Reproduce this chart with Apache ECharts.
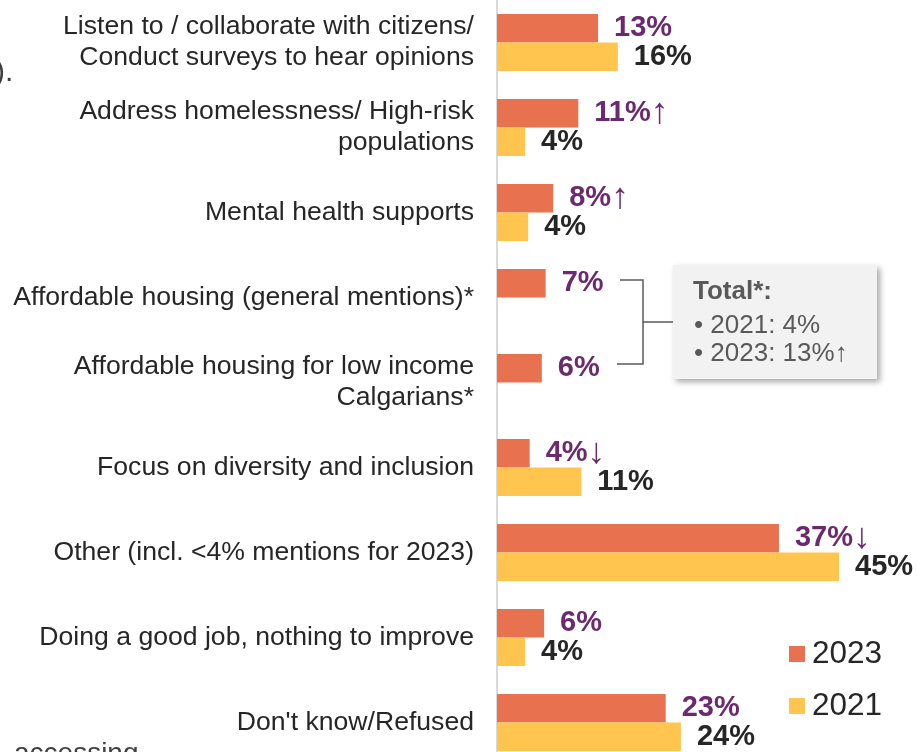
<!DOCTYPE html>
<html><head><meta charset="utf-8">
<script src="https://cdn.jsdelivr.net/npm/echarts@6/dist/echarts.min.js"></script>
<style>html,body{margin:0;padding:0;background:#fff;overflow:hidden}#c{width:917px;height:752px}</style>
</head><body><div id="c"></div>
<script>
const categories = [
  'Listen to / collaborate with citizens/\nConduct surveys to hear opinions',
  'Address homelessness/ High-risk\npopulations',
  'Mental health supports',
  'Affordable housing (general mentions)*',
  'Affordable housing for low income\nCalgarians*',
  'Focus on diversity and inclusion',
  'Other (incl. <4% mentions for 2023)',
  'Doing a good job, nothing to improve',
  "Don't know/Refused"
];
const values2023 = [13.3, 10.7, 7.4, 6.4, 5.9, 4.3, 37.1, 6.2, 22.2];
const values2021 = [15.9, 3.7, 4.1, null, null, 11.1, 45.0, 3.7, 24.2];
const labels2023 = ['13%', '11%', '8%', '7%', '6%', '4%', '37%', '6%', '23%'];
const arrows2023 = ['', '↑', '↑', '', '', '↓', '↓', '', ''];
const labels2021 = ['16%', '4%', '4%', '', '', '11%', '45%', '4%', '24%'];
const legendNames = ['2023', '2021'];
const totalBox = ['Total*:', '• 2021: 4%', '• 2023: 13%↑'];

const FONT = '"Liberation Sans", Arial, sans-serif';
const C2023 = '#E8714F', C2021 = '#FFC54F', PURPLE = '#6B2A6E', DARK = '#262626', GREY = '#595959';

const chart = echarts.init(document.getElementById('c'), null, {renderer: 'canvas'});
chart.setOption({
  backgroundColor: '#fff',
  animation: false,
  textStyle: {fontFamily: FONT},
  grid: {left: 497, top: 0, width: 418, height: 765, containLabel: false, outerBoundsMode: 'none'},
  xAxis: {type: 'value', min: 0, max: 55, show: false},
  yAxis: {
    type: 'category', data: categories, inverse: true,
    axisLine: {show: true, lineStyle: {color: '#d9d9d9', width: 2}},
    axisTick: {show: false},
    axisLabel: {fontSize: 26.6, color: DARK, margin: 23, lineHeight: 31, align: 'right', fontFamily: FONT}
  },
  legend: {
    data: legendNames, orient: 'vertical', left: 789, top: 638, padding: 0,
    itemWidth: 16, itemHeight: 16, itemGap: 20, icon: 'rect',
    textStyle: {fontSize: 31.5, color: DARK, lineHeight: 32, fontFamily: FONT, padding: [0, 0, 0, 2]}
  },
  series: [
    {
      name: '2023', type: 'bar', data: values2023, barCategoryGap: '33%', barGap: '0%',
      itemStyle: {color: C2023},
      label: {
        show: true, position: 'right', distance: 16,
        formatter: p => '{v|' + labels2023[p.dataIndex] + '}' + (arrows2023[p.dataIndex] ? '{a|' + arrows2023[p.dataIndex] + '}' : ''),
        rich: {
          v: {fontSize: 29, fontWeight: 'bold', color: PURPLE, fontFamily: FONT},
          a: {fontSize: 36, fontWeight: 'normal', color: PURPLE, fontFamily: FONT}
        }
      }
    },
    {
      name: '2021', type: 'bar', data: values2021, barCategoryGap: '33%', barGap: '0%',
      itemStyle: {color: C2021},
      label: {
        show: true, position: 'right', distance: 16,
        formatter: p => labels2021[p.dataIndex],
        fontSize: 29, fontWeight: 'bold', color: DARK, fontFamily: FONT
      }
    }
  ],
  graphic: [
    {type: 'polyline', shape: {points: [[620, 280], [643, 280], [643, 364], [617, 364]]}, style: {stroke: GREY, lineWidth: 1.5, fill: null}},
    {type: 'line', shape: {x1: 643, y1: 322, x2: 673, y2: 322}, style: {stroke: GREY, lineWidth: 1.5}},
    {type: 'rect', shape: {x: 673, y: 265, width: 204, height: 114}, style: {fill: '#f2f2f2', shadowBlur: 6, shadowOffsetX: 3, shadowOffsetY: 3, shadowColor: 'rgba(0,0,0,0.35)'}},
    {type: 'text', left: 693, top: 279, style: {text: totalBox[0], font: 'bold 26px ' + FONT, fill: GREY}},
    {type: 'text', left: 694, top: 313, style: {text: totalBox[1], font: '26px ' + FONT, fill: GREY}},
    {type: 'text', left: 694, top: 341, style: {text: totalBox[2], font: '26px ' + FONT, fill: GREY}},
    {type: 'text', left: -5, top: 58, style: {text: ').', font: '30px ' + FONT, fill: '#404040'}},
    {type: 'text', left: 14, top: 740, style: {text: 'accessing', font: '28px ' + FONT, fill: '#404040'}}
  ]
});
</script></body></html>
